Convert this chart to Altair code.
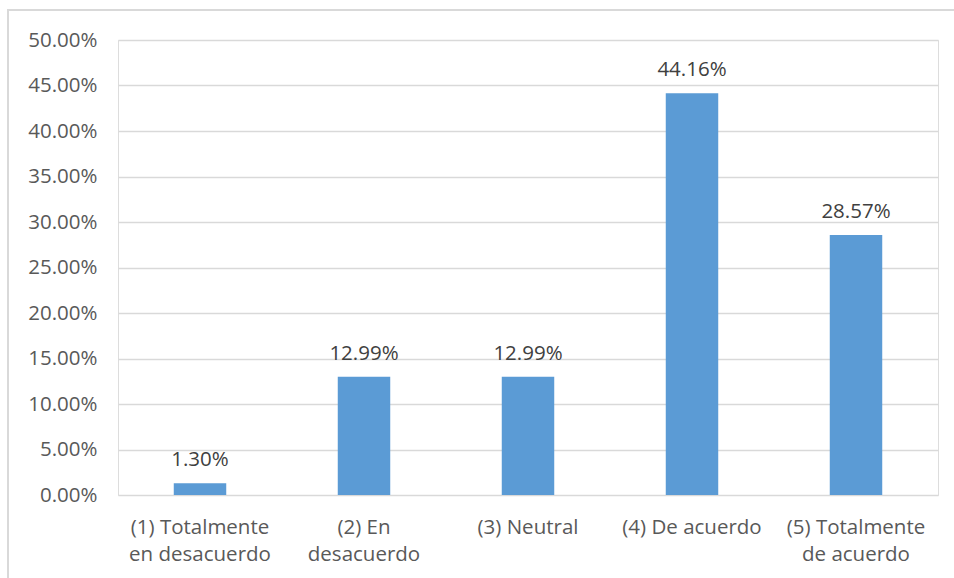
import altair as alt
import pandas as pd

categories = [
    "(1) Totalmente\nen desacuerdo",
    "(2) En\ndesacuerdo",
    "(3) Neutral",
    "(4) De acuerdo",
    "(5) Totalmente\nde acuerdo",
]
shares = [1.30, 12.99, 12.99, 44.16, 28.57]
y_ticks = [0, 5, 10, 15, 20, 25, 30, 35, 40, 45, 50]

df = pd.DataFrame({"categoria": categories, "valor": shares})
df["etiqueta"] = [f"{v:.2f}%" for v in shares]

FONT = "Open Sans"
AXIS_TEXT = "#595959"
VALUE_TEXT = "#404040"
W, H = 820, 455

x_enc = alt.X(
    "categoria:N",
    sort=categories,
    title=None,
    scale=alt.Scale(paddingInner=0.68, paddingOuter=0.34),
    axis=alt.Axis(
        labelExpr="split(datum.label, '\\n')",
        labelAngle=0,
        labelFont=FONT,
        labelFontSize=20.5,
        labelColor=AXIS_TEXT,
        labelLineHeight=27,
        labelPadding=22,
        ticks=False,
        domain=False,
        grid=False,
    ),
)

y_enc = alt.Y(
    "valor:Q",
    title=None,
    scale=alt.Scale(domain=[0, 50], nice=False),
    axis=alt.Axis(
        values=y_ticks,
        labelExpr="format(datum.value, '.2f') + '%'",
        labelFont=FONT,
        labelFontSize=20.5,
        labelColor=AXIS_TEXT,
        labelPadding=21,
        ticks=False,
        domain=False,
        grid=True,
        gridColor="#D9D9D9",
        gridWidth=1.3,
    ),
)

bars = alt.Chart(df).mark_bar(color="#5B9BD5").encode(x=x_enc, y=y_enc)

labels = alt.Chart(df).mark_text(
    font=FONT, fontSize=20.5, color=VALUE_TEXT, baseline="alphabetic", dy=-17
).encode(x=alt.X("categoria:N", sort=categories), y="valor:Q", text="etiqueta:N")

frame = alt.Chart(df.head(1)).mark_rect(
    fill=None, stroke="#D9D9D9", strokeWidth=2
).encode(
    x=alt.value(-110), x2=alt.value(W + 40), y=alt.value(-30), y2=alt.value(H + 100)
)

chart = (
    alt.layer(frame, bars, labels)
    .properties(
        width=W,
        height=H,
        autosize=alt.AutoSizeParams(type="none"),
        padding={"left": 118, "top": 40, "right": 16, "bottom": 83},
    )
    .configure_view(stroke=None)
    .configure(background="white")
)

chart.save("out.html", embed_options={"renderer": "svg", "actions": False})
